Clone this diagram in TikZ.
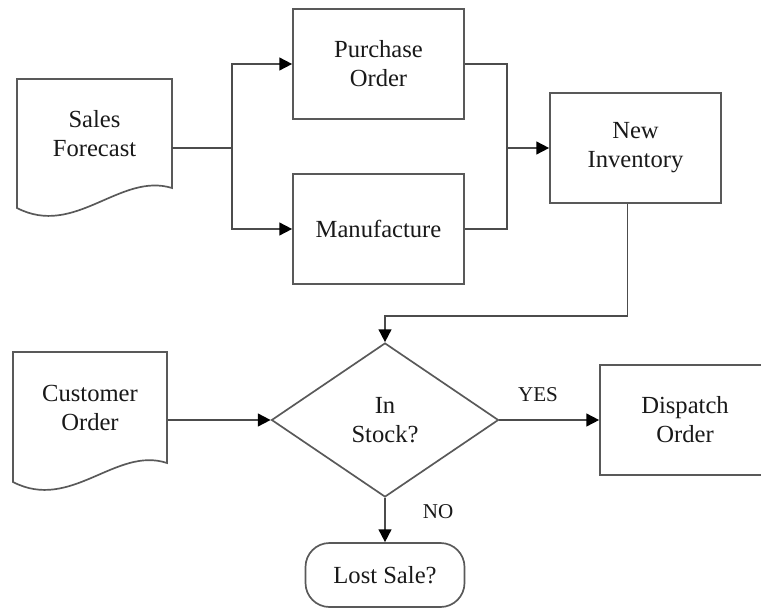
\documentclass[tikz,border=0pt]{standalone}
\usepackage{fontspec}
\setmainfont{Liberation Serif}
\usetikzlibrary{shapes.geometric,arrows.meta}

\begin{document}
\begin{tikzpicture}[
        box/.style={draw=black!65, line width=1.2pt, minimum width=4.275cm, minimum height=2.75cm,
            align=center, font=\fontsize{17.5}{20.6}\selectfont, text=black!90},
        doc/.style={minimum width=3.875cm, minimum height=2.725cm, align=center,
            font=\fontsize{17.5}{20.6}\selectfont, text=black!90},
        outline/.style={draw=black!65, line width=1.2pt},
        decision/.style={diamond, draw=black!65, line width=1.2pt, minimum width=5.675cm,
            minimum height=3.85cm, inner sep=0pt, align=center,
            font=\fontsize{17.5}{20.6}\selectfont, text=black!90},
        terminal/.style={rectangle, rounded corners=0.6cm, draw=black!65, line width=1.2pt,
            minimum width=3.975cm, minimum height=1.6cm, font=\fontsize{17.5}{20.6}\selectfont, text=black!90},
        link/.style={draw=black!70, line width=1.2pt},
        flow/.style={link, -{Triangle[length=0.32cm,width=0.32cm,fill=black,color=black]}},
        answer/.style={font=\fontsize{15}{18}\selectfont, text=black!90}]
        \useasboundingbox (0,0) rectangle (19.025,15.2);
        \clip (0,0) rectangle (19.025,15.2);

        % Sales forecast document
        \node[doc] (sales) at (2.3625,11.8625) {Sales\\Forecast};
        \draw[outline] (0.425,13.225) -- (4.3,13.225) -- (4.3,10.5)
            .. controls (3.0,10.9) and (1.875,9.25) .. (0.425,10.0) -- cycle;

        % Purchase order / manufacture
        \node[box] (purchase) at (9.4625,13.6) {Purchase\\Order};
        \node[box] (manufacture) at (9.4625,9.475) {Manufacture};

        % New inventory
        \node[box] (inventory) at (15.8875,11.5) {New\\Inventory};

        % Split and merge
        \coordinate (split) at (5.8,11.5);
        \coordinate (merge) at (12.675,11.5);
        \draw[link] (sales.east |- split) -- (split);
        \draw[flow] (split) |- (purchase.west);
        \draw[flow] (split) |- (manufacture.west);
        \draw[link] (purchase.east) -| (merge) |- (manufacture.east);
        \draw[flow] (merge) -- (inventory.west);

        % Customer order document
        \node[doc] (customer) at (2.25,5.0125) {Customer\\Order};
        \draw[outline] (0.325,6.4) -- (4.175,6.4) -- (4.175,3.625)
            .. controls (2.9,4.05) and (1.775,2.4) .. (0.325,3.15) -- cycle;

        % Stock check
        \node[decision] (stock) at (9.625,4.7) {In\\Stock?};
        \draw[flow] ([xshift=-0.2cm]inventory.south) -- ++(0,-2.8) -| (stock.north);
        \draw[flow] (customer.east |- stock) -- (stock.west);

        % Outcomes
        \node[box, minimum width=4.25cm] (dispatch) at (17.125,4.7) {Dispatch\\Order};
        \node[terminal] (lost) at (9.625,0.825) {Lost Sale?};
        \draw[flow] (stock.east) -- (dispatch.west);
        \draw[flow] (stock.south) -- (lost.north);
        \node[answer] (yes) at (13.45,5.325) {YES};
        \node[answer] (no) at (10.95,2.4) {NO};
    \end{tikzpicture}
\end{document}
